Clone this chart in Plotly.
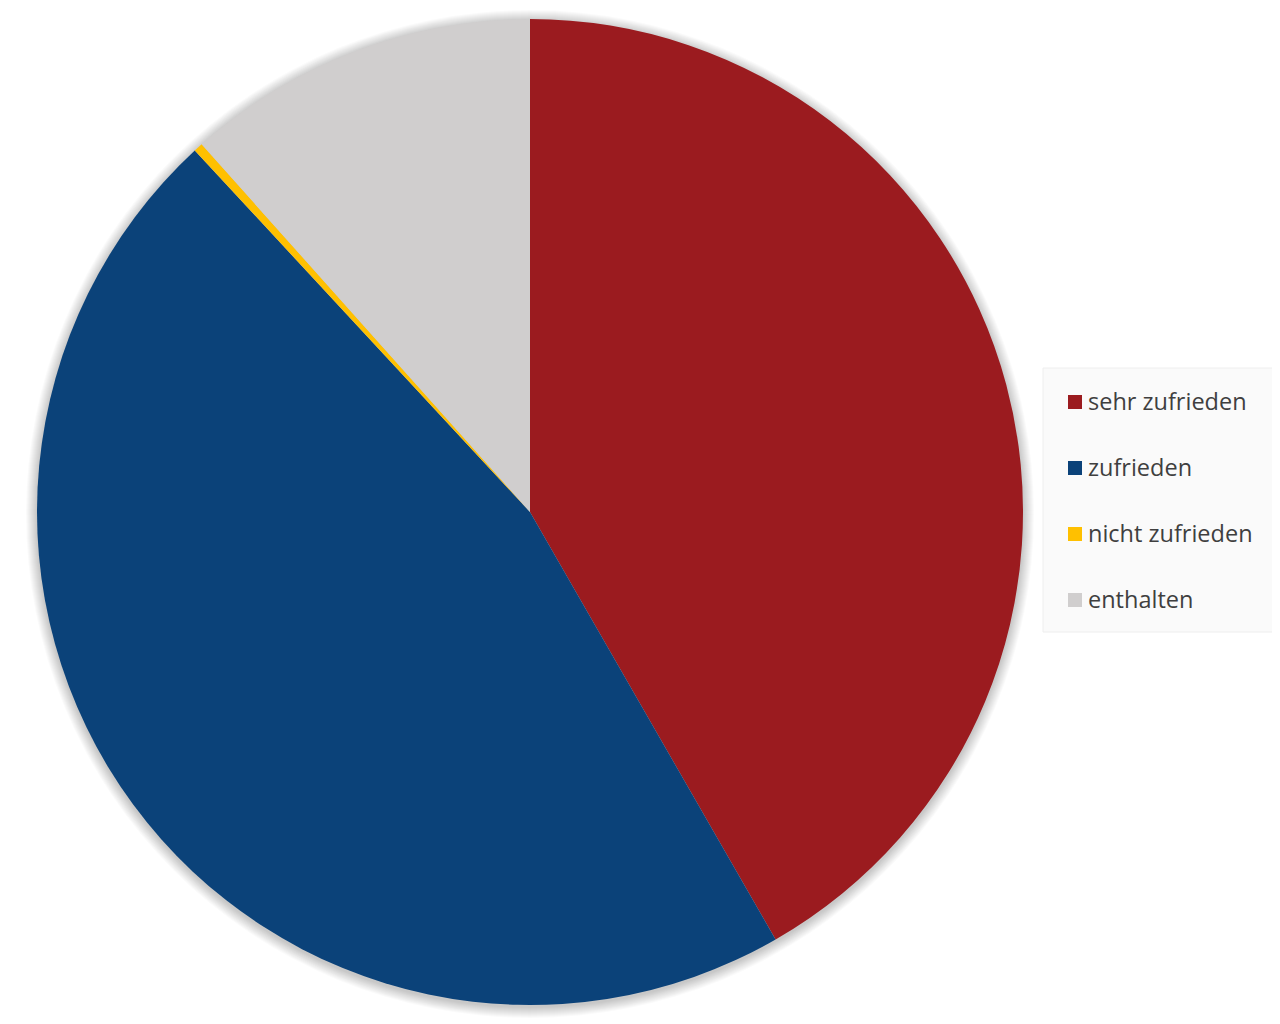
import plotly.graph_objects as go

labels = ["sehr zufrieden", "zufrieden", "nicht zufrieden", "enthalten"]
values = [41.7, 46.4, 0.3, 11.6]
colors = ["#9B1B1F", "#0B4279", "#FFC000", "#D0CECE"]

W, H = 1280, 1024
OFF = 8  # page body margin
cx, cy, r = 530 - OFF, 512 - OFF, 493

fig = go.Figure(go.Pie(
    labels=labels, values=values, sort=False, direction="clockwise",
    marker=dict(colors=colors, line=dict(width=0)),
    textinfo="none", hoverinfo="label+percent", showlegend=False,
    domain=dict(x=[(cx - r) / W, (cx + r) / W], y=[1 - (cy + r) / H, 1 - (cy - r) / H]),
))

shapes = []
# soft shadow around pie
for i in range(1, 12):
    rr = r + i
    shapes.append(dict(type="circle", xref="paper", yref="paper", layer="below",
                       x0=(cx - rr) / W, x1=(cx + rr) / W,
                       y0=1 - (cy + 2 + rr) / H, y1=1 - (cy + 2 - rr) / H,
                       fillcolor="rgba(0,0,0,0.018)", line=dict(width=0)))

# legend box
shapes.append(dict(type="rect", xref="paper", yref="paper", layer="below",
                   x0=(1043 - OFF) / W, x1=(1278 - OFF) / W,
                   y0=1 - (632 - OFF) / H, y1=1 - (368 - OFF) / H,
                   fillcolor="#FAFAFA", line=dict(color="#EEEEEE", width=1)))
annotations = []
for i, (lab, col) in enumerate(zip(labels, colors)):
    yc = 401 + 66 * i - OFF
    shapes.append(dict(type="rect", xref="paper", yref="paper",
                       x0=(1068 - OFF) / W, x1=(1082 - OFF) / W,
                       y0=1 - (yc + 8) / H, y1=1 - (yc - 6) / H,
                       fillcolor=col, line=dict(width=0)))
    annotations.append(dict(text=lab, xref="paper", yref="paper", x=(1086 - OFF) / W, y=1 - yc / H,
                            xanchor="left", yanchor="middle", showarrow=False,
                            font=dict(family="Open Sans", size=23.5, color="#3F3F3F")))

fig.update_layout(width=W, height=H, margin=dict(l=0, r=0, t=0, b=0),
                  paper_bgcolor="white", plot_bgcolor="white",
                  shapes=shapes, annotations=annotations)
fig.write_html("out.html")
